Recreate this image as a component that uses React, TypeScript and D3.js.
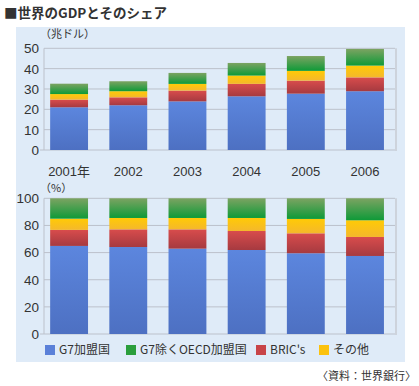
import React from "react";
import * as d3 from "d3";

const years = ["2001年", "2002", "2003", "2004", "2005", "2006"];
const seriesNames = ["G7加盟国", "BRIC's", "その他", "G7除くOECD加盟国"];
// GDP (trillion USD), stacked bottom to top
const g7Gdp = [21.0, 22.0, 23.9, 26.4, 27.7, 28.9];
const bricGdp = [3.75, 3.9, 5.3, 6.1, 6.4, 6.8];
const otherGdp = [2.75, 3.0, 3.3, 4.1, 4.8, 5.8];
const oecdGdp = [5.1, 4.9, 5.4, 6.2, 7.3, 8.2];
// share (%)
const g7Share = [64.9, 64.1, 62.9, 61.9, 59.5, 57.5];
const bricShare = [11.8, 13.0, 14.2, 14.0, 14.7, 14.0];
const otherShare = [8.3, 8.4, 8.4, 9.6, 10.6, 12.3];
const oecdShare = [15.0, 14.5, 14.5, 14.5, 15.2, 16.2];

const topTicks = [0, 10, 20, 30, 40, 50];
const bottomTicks = [0, 20, 40, 60, 80, 100];

const legendOrder = ["G7加盟国", "G7除くOECD加盟国", "BRIC's", "その他"];

const gradients: Record<string, [string, string]> = {
  "G7加盟国": ["#5c86de", "#4d70c2"],
  "BRIC's": ["#d84c4c", "#a63a40"],
  "その他": ["#ffca06", "#f4b82c"],
  "G7除くOECD加盟国": ["#7ca362", "#0e9a38"],
};
const legendColors: Record<string, string> = {
  "G7加盟国": "#5a80d8",
  "G7除くOECD加盟国": "#2a9e3c",
  "BRIC's": "#c84448",
  "その他": "#fcc20e",
};

const font = "'Noto Sans CJK JP', 'Noto Sans', sans-serif";
const numFont = "'Liberation Sans', 'Noto Sans CJK JP', sans-serif";
const textColor = "#333";

function Chart({
  data,
  ticks,
  y0,
  y1,
  max,
}: {
  data: number[][];
  ticks: number[];
  y0: number;
  y1: number;
  max: number;
}) {
  const x = d3.scaleBand<string>().domain(years).range([39.5, 394.6]).paddingInner(0.36).paddingOuter(0.18);
  const y = d3.scaleLinear().domain([0, max]).range([y0, y1]);
  const rows = years.map((yr, i) => {
    const o: any = { year: yr };
    seriesNames.forEach((s, k) => (o[s] = data[k][i]));
    return o;
  });
  const stack = d3.stack<any>().keys(seriesNames)(rows);
  const left = 44;
  const right = 395;
  return (
    <g>
      {ticks.map((t) => (
        <g key={t}>
          <line x1={left} x2={right} y1={y(t)} y2={y(t)} stroke="#bcc1cb" strokeWidth={1} />
          <text x={39} y={y(t)} dy="0.36em" textAnchor="end" fontSize={13.5} fill={textColor} fontFamily={numFont}>
            {t}
          </text>
        </g>
      ))}
      <line x1={left} x2={left} y1={y(max)} y2={y(0)} stroke="#bcc1cb" />
      <line x1={right + 1} x2={right + 1} y1={y(max)} y2={y(0) + 1} stroke="#cdd3dc" strokeWidth={2} />
      <line x1={left - 4} x2={left} y1={y(0)} y2={y(0)} stroke="#bcc1cb" />
      {stack.map((layer) =>
        layer.map((d, i) => (
          <rect
            key={layer.key + i}
            x={x(years[i])}
            width={x.bandwidth()}
            y={y(d[1])}
            height={y(d[0]) - y(d[1])}
            fill={`url(#grad-${seriesNames.indexOf(layer.key)})`}
          />
        ))
      )}
    </g>
  );
}

export default function App() {
  const x = d3.scaleBand<string>().domain(years).range([39.5, 394.6]).paddingInner(0.36).paddingOuter(0.18);
  const legendX = [45, 126, 256, 319];
  return (
    <svg width={419} height={386} style={{ position: "absolute", left: 0, top: 0 }}>
      <defs>
        {seriesNames.map((s, k) => (
          <linearGradient key={s} id={`grad-${k}`} x1="0" y1="0" x2="0" y2="1">
            <stop offset="0" stopColor={gradients[s][0]} />
            <stop offset="1" stopColor={gradients[s][1]} />
          </linearGradient>
        ))}
      </defs>
      <rect x={0} y={0} width={419} height={386} fill="#fff" />
      <text x={4} y={18} fontSize={13.5} fontWeight="bold" fill={textColor} fontFamily={font}>
        ■世界のGDPとそのシェア
      </text>
      <rect x={16} y={27} width={389} height={335} fill="#dfebf8" />
      <text x={40} y={38} fontSize={11} fill={textColor} fontFamily={font}>
        （兆ドル）
      </text>
      <Chart data={[g7Gdp, bricGdp, otherGdp, oecdGdp]} ticks={topTicks} y0={150} y1={48.3} max={50} />
      {years.map((yr) => (
        <text
          key={yr}
          x={(x(yr) as number) + x.bandwidth() / 2}
          y={176}
          textAnchor="middle"
          fontSize={13}
          fill={textColor}
          fontFamily={numFont}
        >
          {yr}
        </text>
      ))}
      <text x={40} y={192} fontSize={11} fill={textColor} fontFamily={font}>
        （%）
      </text>
      <Chart data={[g7Share, bricShare, otherShare, oecdShare]} ticks={bottomTicks} y0={334} y1={198.3} max={100} />
      {legendOrder.map((s, i) => (
        <g key={s}>
          <rect x={legendX[i]} y={345} width={10} height={10} fill={legendColors[s]} />
          <text x={legendX[i] + 14} y={350} dy="0.36em" fontSize={12} fill={textColor} fontFamily={font}>
            {s}
          </text>
        </g>
      ))}
      <text x={416} y={380} textAnchor="end" fontSize={11} fill={textColor} fontFamily={font}>
        〈資料：世界銀行〉
      </text>
    </svg>
  );
}
